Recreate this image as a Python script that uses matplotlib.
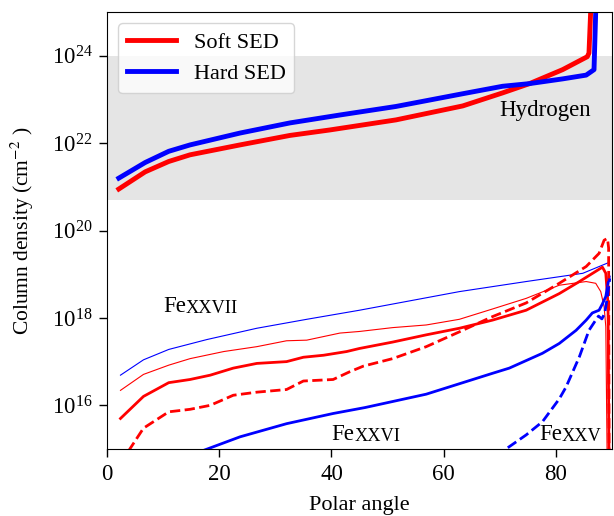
import numpy as np
import matplotlib
matplotlib.use("Agg")
import matplotlib.pyplot as plt

plt.rcParams['font.family'] = ['Liberation Serif', 'DejaVu Serif']
plt.rcParams['mathtext.fontset'] = 'stix'

# hydrogen column density (cm^-2) vs polar angle (deg)
h_soft_x = [2.1, 6.8, 11, 14.8, 23.7, 32.6, 39.7, 51.5, 63.4, 70.5, 75.3, 81.2,
            85.6, 85.9, 86.2, 86.3]
h_soft_y = [8.9e20, 2.2e21, 3.8e21, 5.4e21, 9.1e21, 1.5e22, 2.0e22, 3.4e22,
            7.1e22, 1.41e23, 2.3e23, 4.8e23, 9.5e23, 1.15e24, 1e25, 1e26]
h_hard_x = [2.1, 6.8, 11, 14.8, 23.7, 32.6, 41.5, 51.5, 63.4, 70.5, 75.3, 81.2,
            85.4, 86.8, 87.1, 87.2]
h_hard_y = [1.58e21, 3.6e21, 6.5e21, 9.1e21, 1.7e22, 2.9e22, 4.4e22, 6.9e22,
            1.35e23, 2.0e23, 2.3e23, 2.95e23, 3.6e23, 4.8e23, 1e25, 1e26]

# Fe XXVII (thin)
fe27_soft_x = [2.4, 6.5, 11, 14.8, 20.8, 26.7, 32, 35.6, 41.5, 45, 50.9, 56.9,
               62.8, 68.7, 74.7, 80.6, 85.4, 87.1, 88.0, 88.6, 88.9, 89.2]
fe27_soft_y = [2.2e16, 5.1e16, 8.3e16, 1.17e17, 1.7e17, 2.2e17, 3.0e17, 3.1e17,
               4.5e17, 4.9e17, 6.0e17, 6.9e17, 9.3e17, 1.6e18, 2.8e18, 5.6e18,
               6.8e18, 6.2e18, 4.0e18, 1.8e18, 6.3e17, 1e14]
fe27_hard_x = [2.4, 6.5, 11, 17.8, 26.7, 35.6, 45, 62.8, 74.7, 84.8, 89.2]
fe27_hard_y = [4.9e16, 1.1e17, 1.9e17, 3.2e17, 5.8e17, 9.3e17, 1.5e18, 4.0e18,
               6.8e18, 1.05e19, 1.8e19]

# Fe XXVI (medium solid)
fe26_soft_x = [2.4, 6.5, 11, 14.8, 18.4, 22.5, 26.7, 32, 35, 38.6, 42.7, 45,
               50.9, 56.9, 62.8, 68.7, 74.7, 80.6, 84.2, 88.3, 88.9, 89.3, 89.5]
fe26_soft_y = [5.0e15, 1.6e16, 3.3e16, 3.9e16, 4.9e16, 7.1e16, 9.1e16, 1.0e17,
               1.26e17, 1.4e17, 1.7e17, 2.0e17, 2.8e17, 4.1e17, 5.8e17, 8.9e17,
               1.5e18, 3.6e18, 6.8e18, 1.45e19, 1.05e19, 2e18, 1e14]
fe26_hard_x = [11, 17.2, 23.7, 32, 40.3, 46, 56.9, 68.7, 71.7, 77.6, 80.6, 83.6,
               85.4, 86.5, 87.7, 88.3, 88.9, 89.5]
fe26_hard_y = [4e14, 9.3e14, 1.9e15, 3.8e15, 6.5e15, 8.9e15, 1.8e16, 5.4e16,
               7.1e16, 1.55e17, 2.6e17, 5.2e17, 8.9e17, 1.3e18, 1.5e18, 2.1e18,
               3.1e18, 8.7e18]

# Fe XXV (dashed)
fe25_soft_x = [2.4, 3.9, 6.5, 11, 14.8, 18.4, 22.5, 26.7, 32, 35, 40.3, 43.3,
               45.7, 50.9, 56.9, 62.8, 68.7, 74.7, 80.6, 85.4, 87.7, 88.6, 89.2,
               89.4, 89.5]
fe25_soft_y = [2e14, 9.3e14, 3.0e15, 7.1e15, 8.1e15, 1.0e16, 1.7e16, 2.0e16,
               2.3e16, 3.6e16, 3.9e16, 5.9e16, 7.9e16, 1.17e17, 2.2e17, 4.8e17,
               1.07e18, 2.2e18, 6.2e18, 1.5e19, 3.0e19, 6.0e19, 6.6e19, 4e19, 1e14]
fe25_hard_x = [65, 71.1, 74.7, 77.6, 80.6, 81.8, 84.2, 85.9, 87.1, 87.6, 88.2,
               88.7, 89.2, 89.6]
fe25_hard_y = [2.8e14, 1.0e15, 2.1e15, 4.2e15, 1.4e16, 2.6e16, 1.3e17, 5.2e17,
               8.9e17, 1.1e18, 9.5e17, 1.26e18, 3.1e18, 8e18]

fig = plt.figure(figsize=(6.14, 5.16), dpi=100)
ax = fig.add_axes([0.1743, 0.1298, 0.8224, 0.8469])

ax.axhspan(5e20, 1e24, color='#e5e5e5', zorder=0, lw=0)

ax.plot(h_soft_x, h_soft_y, color='red', lw=3.5, label='Soft SED')
ax.plot(h_hard_x, h_hard_y, color='blue', lw=3.5, label='Hard SED')

ax.plot(fe27_soft_x, fe27_soft_y, color='red', lw=0.8)
ax.plot(fe27_hard_x, fe27_hard_y, color='blue', lw=0.8)
ax.plot(fe26_soft_x, fe26_soft_y, color='red', lw=2)
ax.plot(fe26_hard_x, fe26_hard_y, color='blue', lw=2)
ax.plot(fe25_soft_x, fe25_soft_y, color='red', lw=2, ls='--')
ax.plot(fe25_hard_x, fe25_hard_y, color='blue', lw=2, ls='--')

ax.set_yscale('log')
ax.set_xlim(0, 90)
ax.set_ylim(1e15, 1e25)
ax.set_yticks([1e16, 1e18, 1e20, 1e22, 1e24])
ax.minorticks_off()
ax.set_xticks([0, 20, 40, 60, 80])
ax.tick_params(labelsize=16.5, length=6, width=1, pad=4.5)

fs = 16.5


def ion_label(x, y, numeral):
    t = ax.text(x, y, 'Fe', fontsize=fs, va='baseline', ha='left')
    ax.annotate(numeral, xy=(1, 0), xycoords=t, fontsize=fs * 0.8,
                va='bottom', ha='left')


ion_label(10, 1.4e18, 'XXVII')
ion_label(40, 1.6e15, 'XXVI')
ion_label(77, 1.6e15, 'XXV')
ax.text(69.9, 4.1e22, 'Hydrogen', fontsize=fs, va='baseline', ha='left')

ax.set_xlabel('Polar angle', fontsize=16, labelpad=8)
ax.set_ylabel(r'Column density (cm$^{-2}$ )', fontsize=15.5, labelpad=11)

ax.legend(loc='upper left', fontsize=16, handlelength=2.2)

fig.savefig('out.png', dpi=100)
